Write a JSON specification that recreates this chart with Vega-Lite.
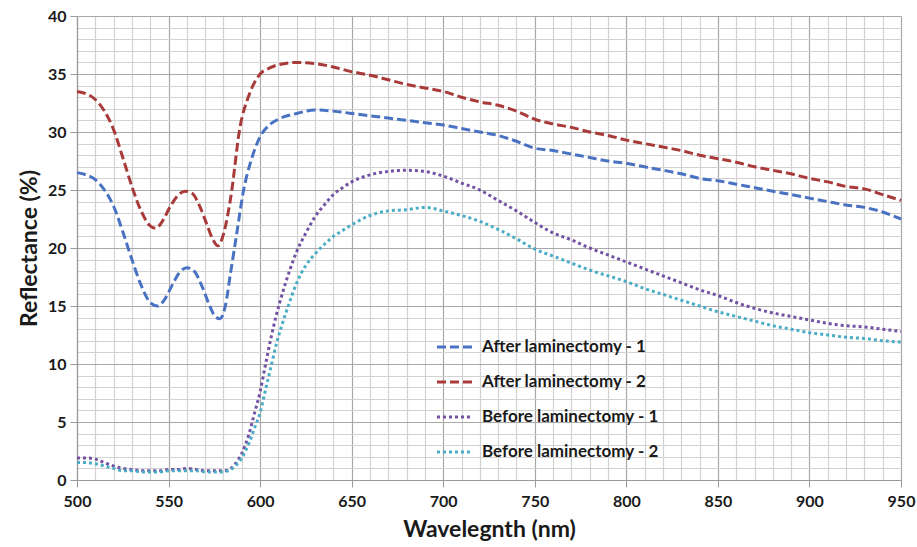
{
  "$schema": "https://vega.github.io/schema/vega-lite/v6.json",
  "autosize": "none",
  "width": 824,
  "height": 464,
  "padding": {"left": 77, "top": 16, "right": 16, "bottom": 67},
  "background": "white",
  "config": {
    "font": "Lato",
    "view": {"stroke": null},
    "axis": {
      "labelFont": "Lato", "labelFontWeight": "bold", "labelFontSize": 16, "labelColor": "#1a1a1a",
      "titleFont": "Lato", "titleFontWeight": "bold", "titleFontSize": 23, "titleColor": "#1a1a1a",
      "domainColor": "#9a9a9a", "domainWidth": 1.2,
      "labelOverlap": false, "labelBound": false, "labelFlush": false
    }
  },
  "data": {"values": [
    {"series":"After laminectomy - 1","nm":500,"pct":26.5},{"series":"After laminectomy - 1","nm":505,"pct":26.3},{"series":"After laminectomy - 1","nm":510,"pct":25.9},{"series":"After laminectomy - 1","nm":515,"pct":25.0},{"series":"After laminectomy - 1","nm":520,"pct":23.6},{"series":"After laminectomy - 1","nm":525,"pct":21.4},{"series":"After laminectomy - 1","nm":530,"pct":19.0},{"series":"After laminectomy - 1","nm":535,"pct":16.8},{"series":"After laminectomy - 1","nm":540,"pct":15.3},{"series":"After laminectomy - 1","nm":544,"pct":15.0},{"series":"After laminectomy - 1","nm":548,"pct":15.6},{"series":"After laminectomy - 1","nm":552,"pct":16.8},{"series":"After laminectomy - 1","nm":556,"pct":17.9},{"series":"After laminectomy - 1","nm":560,"pct":18.3},{"series":"After laminectomy - 1","nm":564,"pct":18.0},{"series":"After laminectomy - 1","nm":568,"pct":16.8},{"series":"After laminectomy - 1","nm":572,"pct":15.2},{"series":"After laminectomy - 1","nm":575,"pct":14.2},{"series":"After laminectomy - 1","nm":578,"pct":13.9},{"series":"After laminectomy - 1","nm":581,"pct":15.0},{"series":"After laminectomy - 1","nm":584,"pct":18.0},{"series":"After laminectomy - 1","nm":587,"pct":21.0},{"series":"After laminectomy - 1","nm":591,"pct":25.0},{"series":"After laminectomy - 1","nm":595,"pct":27.5},{"series":"After laminectomy - 1","nm":600,"pct":29.6},{"series":"After laminectomy - 1","nm":605,"pct":30.6},{"series":"After laminectomy - 1","nm":610,"pct":31.1},{"series":"After laminectomy - 1","nm":620,"pct":31.6},{"series":"After laminectomy - 1","nm":630,"pct":31.9},{"series":"After laminectomy - 1","nm":640,"pct":31.8},{"series":"After laminectomy - 1","nm":650,"pct":31.6},{"series":"After laminectomy - 1","nm":660,"pct":31.4},{"series":"After laminectomy - 1","nm":670,"pct":31.2},{"series":"After laminectomy - 1","nm":680,"pct":31.0},{"series":"After laminectomy - 1","nm":690,"pct":30.8},{"series":"After laminectomy - 1","nm":700,"pct":30.6},{"series":"After laminectomy - 1","nm":710,"pct":30.3},{"series":"After laminectomy - 1","nm":720,"pct":30.0},{"series":"After laminectomy - 1","nm":730,"pct":29.7},{"series":"After laminectomy - 1","nm":740,"pct":29.2},{"series":"After laminectomy - 1","nm":750,"pct":28.6},{"series":"After laminectomy - 1","nm":760,"pct":28.4},{"series":"After laminectomy - 1","nm":770,"pct":28.1},{"series":"After laminectomy - 1","nm":780,"pct":27.8},{"series":"After laminectomy - 1","nm":790,"pct":27.5},{"series":"After laminectomy - 1","nm":800,"pct":27.3},{"series":"After laminectomy - 1","nm":810,"pct":27.0},{"series":"After laminectomy - 1","nm":820,"pct":26.7},{"series":"After laminectomy - 1","nm":830,"pct":26.4},{"series":"After laminectomy - 1","nm":840,"pct":26.0},{"series":"After laminectomy - 1","nm":850,"pct":25.8},{"series":"After laminectomy - 1","nm":860,"pct":25.5},{"series":"After laminectomy - 1","nm":870,"pct":25.2},{"series":"After laminectomy - 1","nm":880,"pct":24.9},{"series":"After laminectomy - 1","nm":890,"pct":24.6},{"series":"After laminectomy - 1","nm":900,"pct":24.3},{"series":"After laminectomy - 1","nm":910,"pct":24.0},{"series":"After laminectomy - 1","nm":920,"pct":23.7},{"series":"After laminectomy - 1","nm":930,"pct":23.5},{"series":"After laminectomy - 1","nm":940,"pct":23.1},{"series":"After laminectomy - 1","nm":950,"pct":22.5},

    {"series":"After laminectomy - 2","nm":500,"pct":33.5},{"series":"After laminectomy - 2","nm":505,"pct":33.3},{"series":"After laminectomy - 2","nm":510,"pct":32.8},{"series":"After laminectomy - 2","nm":515,"pct":31.8},{"series":"After laminectomy - 2","nm":520,"pct":30.2},{"series":"After laminectomy - 2","nm":525,"pct":27.8},{"series":"After laminectomy - 2","nm":530,"pct":25.3},{"series":"After laminectomy - 2","nm":535,"pct":23.2},{"series":"After laminectomy - 2","nm":540,"pct":21.9},{"series":"After laminectomy - 2","nm":543,"pct":21.7},{"series":"After laminectomy - 2","nm":547,"pct":22.4},{"series":"After laminectomy - 2","nm":551,"pct":23.6},{"series":"After laminectomy - 2","nm":555,"pct":24.5},{"series":"After laminectomy - 2","nm":559,"pct":24.9},{"series":"After laminectomy - 2","nm":563,"pct":24.7},{"series":"After laminectomy - 2","nm":567,"pct":23.6},{"series":"After laminectomy - 2","nm":571,"pct":22.0},{"series":"After laminectomy - 2","nm":574,"pct":20.8},{"series":"After laminectomy - 2","nm":577,"pct":20.2},{"series":"After laminectomy - 2","nm":580,"pct":21.2},{"series":"After laminectomy - 2","nm":584,"pct":24.4},{"series":"After laminectomy - 2","nm":589,"pct":30.4},{"series":"After laminectomy - 2","nm":594,"pct":33.2},{"series":"After laminectomy - 2","nm":600,"pct":35.0},{"series":"After laminectomy - 2","nm":605,"pct":35.5},{"series":"After laminectomy - 2","nm":610,"pct":35.8},{"series":"After laminectomy - 2","nm":620,"pct":36.0},{"series":"After laminectomy - 2","nm":630,"pct":35.9},{"series":"After laminectomy - 2","nm":640,"pct":35.6},{"series":"After laminectomy - 2","nm":650,"pct":35.2},{"series":"After laminectomy - 2","nm":660,"pct":34.9},{"series":"After laminectomy - 2","nm":670,"pct":34.5},{"series":"After laminectomy - 2","nm":680,"pct":34.1},{"series":"After laminectomy - 2","nm":690,"pct":33.8},{"series":"After laminectomy - 2","nm":700,"pct":33.5},{"series":"After laminectomy - 2","nm":710,"pct":33.0},{"series":"After laminectomy - 2","nm":720,"pct":32.6},{"series":"After laminectomy - 2","nm":730,"pct":32.3},{"series":"After laminectomy - 2","nm":740,"pct":31.8},{"series":"After laminectomy - 2","nm":750,"pct":31.1},{"series":"After laminectomy - 2","nm":760,"pct":30.7},{"series":"After laminectomy - 2","nm":770,"pct":30.4},{"series":"After laminectomy - 2","nm":780,"pct":30.0},{"series":"After laminectomy - 2","nm":790,"pct":29.7},{"series":"After laminectomy - 2","nm":800,"pct":29.3},{"series":"After laminectomy - 2","nm":810,"pct":29.0},{"series":"After laminectomy - 2","nm":820,"pct":28.7},{"series":"After laminectomy - 2","nm":830,"pct":28.4},{"series":"After laminectomy - 2","nm":840,"pct":28.0},{"series":"After laminectomy - 2","nm":850,"pct":27.7},{"series":"After laminectomy - 2","nm":860,"pct":27.4},{"series":"After laminectomy - 2","nm":870,"pct":27.0},{"series":"After laminectomy - 2","nm":880,"pct":26.7},{"series":"After laminectomy - 2","nm":890,"pct":26.4},{"series":"After laminectomy - 2","nm":900,"pct":26.0},{"series":"After laminectomy - 2","nm":910,"pct":25.7},{"series":"After laminectomy - 2","nm":920,"pct":25.3},{"series":"After laminectomy - 2","nm":930,"pct":25.1},{"series":"After laminectomy - 2","nm":940,"pct":24.6},{"series":"After laminectomy - 2","nm":950,"pct":24.1},

    {"series":"Before laminectomy - 1","nm":500,"pct":1.9},{"series":"Before laminectomy - 1","nm":505,"pct":1.9},{"series":"Before laminectomy - 1","nm":510,"pct":1.8},{"series":"Before laminectomy - 1","nm":515,"pct":1.5},{"series":"Before laminectomy - 1","nm":520,"pct":1.2},{"series":"Before laminectomy - 1","nm":525,"pct":1.0},{"series":"Before laminectomy - 1","nm":530,"pct":0.9},{"series":"Before laminectomy - 1","nm":535,"pct":0.8},{"series":"Before laminectomy - 1","nm":540,"pct":0.8},{"series":"Before laminectomy - 1","nm":545,"pct":0.8},{"series":"Before laminectomy - 1","nm":550,"pct":0.9},{"series":"Before laminectomy - 1","nm":555,"pct":0.9},{"series":"Before laminectomy - 1","nm":560,"pct":1.0},{"series":"Before laminectomy - 1","nm":565,"pct":0.9},{"series":"Before laminectomy - 1","nm":570,"pct":0.8},{"series":"Before laminectomy - 1","nm":575,"pct":0.8},{"series":"Before laminectomy - 1","nm":580,"pct":0.8},{"series":"Before laminectomy - 1","nm":584,"pct":1.0},{"series":"Before laminectomy - 1","nm":587,"pct":1.5},{"series":"Before laminectomy - 1","nm":590,"pct":2.3},{"series":"Before laminectomy - 1","nm":594,"pct":4.0},{"series":"Before laminectomy - 1","nm":597,"pct":5.8},{"series":"Before laminectomy - 1","nm":600,"pct":7.6},{"series":"Before laminectomy - 1","nm":603,"pct":10.0},{"series":"Before laminectomy - 1","nm":606,"pct":12.3},{"series":"Before laminectomy - 1","nm":609,"pct":14.3},{"series":"Before laminectomy - 1","nm":612,"pct":16.0},{"series":"Before laminectomy - 1","nm":616,"pct":18.0},{"series":"Before laminectomy - 1","nm":620,"pct":19.7},{"series":"Before laminectomy - 1","nm":625,"pct":21.3},{"series":"Before laminectomy - 1","nm":630,"pct":22.7},{"series":"Before laminectomy - 1","nm":635,"pct":23.7},{"series":"Before laminectomy - 1","nm":640,"pct":24.6},{"series":"Before laminectomy - 1","nm":645,"pct":25.2},{"series":"Before laminectomy - 1","nm":650,"pct":25.7},{"series":"Before laminectomy - 1","nm":660,"pct":26.3},{"series":"Before laminectomy - 1","nm":670,"pct":26.6},{"series":"Before laminectomy - 1","nm":680,"pct":26.7},{"series":"Before laminectomy - 1","nm":690,"pct":26.6},{"series":"Before laminectomy - 1","nm":700,"pct":26.2},{"series":"Before laminectomy - 1","nm":710,"pct":25.6},{"series":"Before laminectomy - 1","nm":720,"pct":25.0},{"series":"Before laminectomy - 1","nm":730,"pct":24.1},{"series":"Before laminectomy - 1","nm":740,"pct":23.2},{"series":"Before laminectomy - 1","nm":750,"pct":22.2},{"series":"Before laminectomy - 1","nm":760,"pct":21.3},{"series":"Before laminectomy - 1","nm":770,"pct":20.7},{"series":"Before laminectomy - 1","nm":780,"pct":20.0},{"series":"Before laminectomy - 1","nm":790,"pct":19.4},{"series":"Before laminectomy - 1","nm":800,"pct":18.8},{"series":"Before laminectomy - 1","nm":810,"pct":18.2},{"series":"Before laminectomy - 1","nm":820,"pct":17.6},{"series":"Before laminectomy - 1","nm":830,"pct":17.0},{"series":"Before laminectomy - 1","nm":840,"pct":16.4},{"series":"Before laminectomy - 1","nm":850,"pct":15.9},{"series":"Before laminectomy - 1","nm":860,"pct":15.3},{"series":"Before laminectomy - 1","nm":870,"pct":14.8},{"series":"Before laminectomy - 1","nm":880,"pct":14.4},{"series":"Before laminectomy - 1","nm":890,"pct":14.1},{"series":"Before laminectomy - 1","nm":900,"pct":13.8},{"series":"Before laminectomy - 1","nm":910,"pct":13.5},{"series":"Before laminectomy - 1","nm":920,"pct":13.3},{"series":"Before laminectomy - 1","nm":930,"pct":13.2},{"series":"Before laminectomy - 1","nm":940,"pct":13.0},{"series":"Before laminectomy - 1","nm":950,"pct":12.8},

    {"series":"Before laminectomy - 2","nm":500,"pct":1.5},{"series":"Before laminectomy - 2","nm":505,"pct":1.5},{"series":"Before laminectomy - 2","nm":510,"pct":1.4},{"series":"Before laminectomy - 2","nm":515,"pct":1.2},{"series":"Before laminectomy - 2","nm":520,"pct":1.0},{"series":"Before laminectomy - 2","nm":525,"pct":0.8},{"series":"Before laminectomy - 2","nm":530,"pct":0.8},{"series":"Before laminectomy - 2","nm":535,"pct":0.7},{"series":"Before laminectomy - 2","nm":540,"pct":0.7},{"series":"Before laminectomy - 2","nm":545,"pct":0.7},{"series":"Before laminectomy - 2","nm":550,"pct":0.8},{"series":"Before laminectomy - 2","nm":555,"pct":0.8},{"series":"Before laminectomy - 2","nm":560,"pct":0.8},{"series":"Before laminectomy - 2","nm":565,"pct":0.8},{"series":"Before laminectomy - 2","nm":570,"pct":0.7},{"series":"Before laminectomy - 2","nm":575,"pct":0.7},{"series":"Before laminectomy - 2","nm":580,"pct":0.7},{"series":"Before laminectomy - 2","nm":584,"pct":0.9},{"series":"Before laminectomy - 2","nm":587,"pct":1.3},{"series":"Before laminectomy - 2","nm":590,"pct":1.9},{"series":"Before laminectomy - 2","nm":594,"pct":3.2},{"series":"Before laminectomy - 2","nm":597,"pct":4.5},{"series":"Before laminectomy - 2","nm":600,"pct":5.8},{"series":"Before laminectomy - 2","nm":603,"pct":7.8},{"series":"Before laminectomy - 2","nm":606,"pct":9.8},{"series":"Before laminectomy - 2","nm":609,"pct":11.8},{"series":"Before laminectomy - 2","nm":612,"pct":13.4},{"series":"Before laminectomy - 2","nm":616,"pct":15.3},{"series":"Before laminectomy - 2","nm":620,"pct":17.0},{"series":"Before laminectomy - 2","nm":625,"pct":18.5},{"series":"Before laminectomy - 2","nm":630,"pct":19.5},{"series":"Before laminectomy - 2","nm":635,"pct":20.3},{"series":"Before laminectomy - 2","nm":640,"pct":21.0},{"series":"Before laminectomy - 2","nm":645,"pct":21.5},{"series":"Before laminectomy - 2","nm":650,"pct":22.0},{"series":"Before laminectomy - 2","nm":660,"pct":22.8},{"series":"Before laminectomy - 2","nm":670,"pct":23.2},{"series":"Before laminectomy - 2","nm":680,"pct":23.3},{"series":"Before laminectomy - 2","nm":690,"pct":23.5},{"series":"Before laminectomy - 2","nm":700,"pct":23.2},{"series":"Before laminectomy - 2","nm":710,"pct":22.8},{"series":"Before laminectomy - 2","nm":720,"pct":22.3},{"series":"Before laminectomy - 2","nm":730,"pct":21.6},{"series":"Before laminectomy - 2","nm":740,"pct":20.8},{"series":"Before laminectomy - 2","nm":750,"pct":19.9},{"series":"Before laminectomy - 2","nm":760,"pct":19.3},{"series":"Before laminectomy - 2","nm":770,"pct":18.7},{"series":"Before laminectomy - 2","nm":780,"pct":18.1},{"series":"Before laminectomy - 2","nm":790,"pct":17.6},{"series":"Before laminectomy - 2","nm":800,"pct":17.1},{"series":"Before laminectomy - 2","nm":810,"pct":16.5},{"series":"Before laminectomy - 2","nm":820,"pct":16.0},{"series":"Before laminectomy - 2","nm":830,"pct":15.5},{"series":"Before laminectomy - 2","nm":840,"pct":15.0},{"series":"Before laminectomy - 2","nm":850,"pct":14.5},{"series":"Before laminectomy - 2","nm":860,"pct":14.1},{"series":"Before laminectomy - 2","nm":870,"pct":13.7},{"series":"Before laminectomy - 2","nm":880,"pct":13.3},{"series":"Before laminectomy - 2","nm":890,"pct":13.0},{"series":"Before laminectomy - 2","nm":900,"pct":12.7},{"series":"Before laminectomy - 2","nm":910,"pct":12.5},{"series":"Before laminectomy - 2","nm":920,"pct":12.3},{"series":"Before laminectomy - 2","nm":930,"pct":12.2},{"series":"Before laminectomy - 2","nm":940,"pct":12.0},{"series":"Before laminectomy - 2","nm":950,"pct":11.9}
  ]},
  "mark": {"type": "line", "interpolate": "monotone", "strokeWidth": 3, "strokeCap": "butt"},
  "encoding": {
    "x": {
      "field": "nm", "type": "quantitative",
      "scale": {"domain": [500, 950], "nice": false, "zero": false},
      "axis": {
        "title": "Wavelegnth (nm)",
        "values": [500,510,520,530,540,550,560,570,580,590,600,610,620,630,640,650,660,670,680,690,700,710,720,730,740,750,760,770,780,790,800,810,820,830,840,850,860,870,880,890,900,910,920,930,940,950],
        "labelExpr": "datum.value % 50 === 0 ? datum.label : ''",
        "grid": true,
        "gridColor": {"condition": {"test": "datum.value % 50 === 0", "value": "#a8a8a8"}, "value": "#d2d2d2"},
        "gridWidth": 1.2,
        "tickSize": 7,
        "tickColor": {"condition": {"test": "datum.value % 50 === 0", "value": "#9a9a9a"}, "value": "rgba(0,0,0,0)"},
        "labelPadding": 6,
        "titlePadding": 9
      }
    },
    "y": {
      "field": "pct", "type": "quantitative",
      "scale": {"domain": [0, 40], "nice": false},
      "axis": {
        "title": "Reflectance (%)",
        "values": [0,1,2,3,4,5,6,7,8,9,10,11,12,13,14,15,16,17,18,19,20,21,22,23,24,25,26,27,28,29,30,31,32,33,34,35,36,37,38,39,40],
        "labelExpr": "datum.value % 5 === 0 ? datum.label : ''",
        "grid": true,
        "gridColor": {"condition": {"test": "datum.value % 5 === 0", "value": "#a8a8a8"}, "value": "#d2d2d2"},
        "gridWidth": 1.2,
        "tickSize": 7,
        "tickColor": {"condition": {"test": "datum.value % 5 === 0", "value": "#9a9a9a"}, "value": "rgba(0,0,0,0)"},
        "labelPadding": 4,
        "titlePadding": 6
      }
    },
    "color": {
      "field": "series", "type": "nominal",
      "scale": {
        "domain": ["After laminectomy - 1", "After laminectomy - 2", "Before laminectomy - 1", "Before laminectomy - 2"],
        "range": ["#4a72c2", "#a93a3a", "#7352a3", "#4bacc6"]
      },
      "legend": {
        "title": null, "orient": "none", "legendX": 358, "legendY": 311,
        "symbolType": "stroke", "symbolSize": 1300, "symbolStrokeWidth": 3,
        "labelFont": "Lato", "labelFontWeight": "bold", "labelFontSize": 17, "labelColor": "#1a1a1a",
        "labelOffset": 7, "rowPadding": 7, "padding": 0, "labelLimit": 300
      }
    },
    "strokeDash": {
      "field": "series", "type": "nominal",
      "scale": {
        "domain": ["After laminectomy - 1", "After laminectomy - 2", "Before laminectomy - 1", "Before laminectomy - 2"],
        "range": [[9, 4], [9, 4], [3, 3], [3, 3]]
      },
      "legend": null
    }
  }
}
